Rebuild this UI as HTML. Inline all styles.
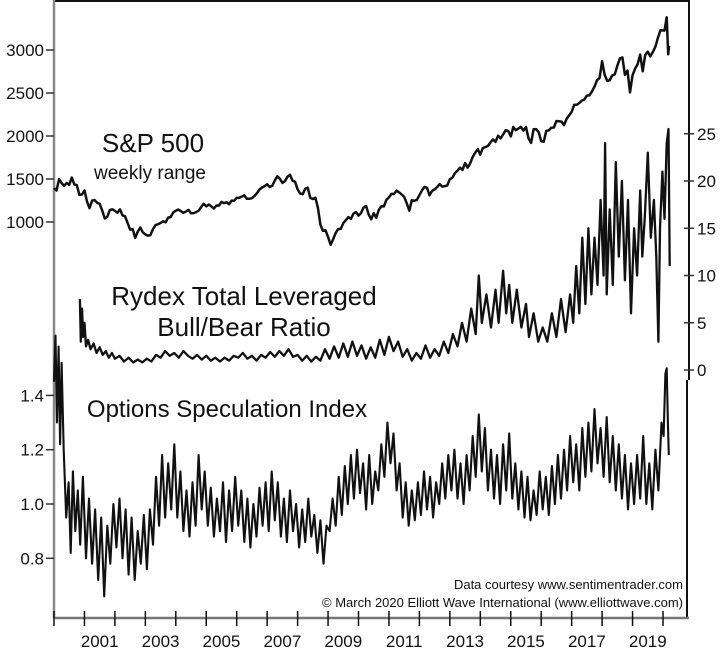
<!DOCTYPE html>
<html><head><meta charset="utf-8"><style>
html,body{margin:0;padding:0;background:#fff;}
svg{display:block;font-family:"Liberation Sans",Arial,sans-serif;}
</style></head><body>
<svg id="chart" width="720" height="650" viewBox="0 0 720 650">
<rect x="0" y="0" width="720" height="650" fill="#fff"/>
<g id="frame">
<line x1="54" y1="1" x2="689" y2="1" stroke="#111" stroke-width="2"/>
<line x1="54" y1="0" x2="54" y2="618" stroke="#888" stroke-width="2.5"/>
<line x1="689" y1="0" x2="689" y2="380" stroke="#111" stroke-width="2"/>
<line x1="687" y1="380" x2="687" y2="618" stroke="#111" stroke-width="2"/>
<line x1="54" y1="618" x2="689" y2="618" stroke="#777" stroke-width="2.5"/>
</g>
<g id="ticks"></g>
<g id="series"></g>
<text x="153" y="152" font-size="26" text-anchor="middle" fill="#111">S&amp;P 500</text>
<text x="150" y="179" font-size="19" text-anchor="middle" fill="#111">weekly range</text>
<text x="244" y="305" font-size="26" text-anchor="middle" fill="#111">Rydex Total Leveraged</text>
<text x="244" y="336" font-size="26" text-anchor="middle" fill="#111">Bull/Bear Ratio</text>
<text x="227" y="417" font-size="24" text-anchor="middle" fill="#111">Options Speculation Index</text>
<text x="683" y="589" font-size="13" text-anchor="end" fill="#111">Data courtesy www.sentimentrader.com</text>
<text x="683" y="607" font-size="13" text-anchor="end" fill="#111">© March 2020 Elliott Wave International (www.elliottwave.com)</text>
</svg>
<script>
const spYears=[2000,2001,2002,2003,2004,2005,2006,2007,2008,2009,2010,2011,2012,2013,2014,2015,2016,2017,2018,2019];
const spMonthly=[
[1394,1366,1499,1452,1421,1455,1431,1518,1437,1429,1315,1320],
[1366,1240,1160,1249,1256,1224,1211,1134,1041,1060,1139,1148],
[1130,1107,1147,1077,1067,989,912,916,815,886,936,880],
[856,841,848,917,964,975,990,1008,996,1051,1058,1112],
[1131,1145,1126,1107,1121,1141,1102,1104,1115,1130,1174,1212],
[1181,1204,1181,1157,1192,1191,1234,1220,1229,1207,1249,1248],
[1280,1281,1295,1311,1270,1270,1277,1304,1336,1378,1401,1418],
[1438,1407,1421,1482,1531,1503,1455,1474,1527,1549,1481,1468],
[1379,1331,1323,1386,1400,1280,1267,1283,1166,969,896,903],
[826,735,798,873,919,919,987,1021,1057,1036,1096,1115],
[1074,1104,1169,1187,1089,1031,1102,1049,1141,1183,1181,1258],
[1286,1327,1326,1364,1345,1321,1292,1219,1131,1253,1247,1258],
[1312,1366,1408,1398,1310,1362,1379,1407,1441,1412,1416,1426],
[1498,1515,1569,1598,1631,1606,1686,1633,1682,1757,1806,1848],
[1783,1859,1872,1884,1924,1960,1931,2003,1972,2018,2068,2059],
[1995,2105,2068,2086,2107,2063,2104,1972,1920,2079,2080,2044],
[1940,1932,2060,2065,2097,2099,2174,2171,2168,2126,2199,2239],
[2279,2364,2363,2384,2412,2423,2470,2472,2519,2575,2648,2674],
[2870,2714,2641,2648,2705,2718,2816,2902,2914,2712,2760,2507],
[2704,2784,2834,2946,2752,2942,2980,2926,2977,3038,3141,3231]];
const spTailDates=[2020.05,2020.12,2020.17,2020.2];
const spTailValues=[3226,3380,2950,3050];

const rydexDates=[2000.85,2000.88,2000.92,2000.96,2001.00,2001.05,2001.12,2001.20,2001.30,2001.40,2001.50,2001.60,2001.70,2001.80,2001.90,2002.00,2002.15,2002.30,2002.45,2002.60,2002.75,2002.90,2003.05,2003.20,2003.35,2003.50,2003.65,2003.80,2003.95,2004.10,2004.25,2004.40,2004.55,2004.70,2004.85,2005.00,2005.15,2005.30,2005.45,2005.60,2005.75,2005.90,2006.05,2006.20,2006.35,2006.50,2006.65,2006.80,2006.95,2007.10,2007.25,2007.40,2007.55,2007.70,2007.85,2008.00,2008.15,2008.30,2008.45,2008.60,2008.75,2008.90,2009.05,2009.20,2009.35,2009.50,2009.65,2009.80,2009.95,2010.10,2010.25,2010.40,2010.55,2010.70,2010.85,2011.00,2011.15,2011.30,2011.45,2011.60,2011.75,2011.90,2012.05,2012.20,2012.35,2012.50,2012.65,2012.80,2012.95,2013.10,2013.25,2013.40,2013.55,2013.70,2013.85,2013.95,2014.05,2014.20,2014.35,2014.50,2014.60,2014.75,2014.85,2014.95,2015.05,2015.20,2015.35,2015.50,2015.60,2015.75,2015.90,2016.05,2016.20,2016.35,2016.50,2016.65,2016.80,2016.95,2017.05,2017.15,2017.25,2017.35,2017.45,2017.55,2017.65,2017.75,2017.85,2017.95,2018.05,2018.10,2018.15,2018.25,2018.35,2018.45,2018.55,2018.65,2018.75,2018.85,2018.95,2019.05,2019.15,2019.25,2019.32,2019.40,2019.50,2019.60,2019.70,2019.78,2019.85,2019.90,2019.98,2020.05,2020.12,2020.18,2020.22];
const rydexValues=[7.5,3.0,6.5,3.5,5.0,2.5,3.2,2.2,2.8,1.8,2.4,1.6,2.0,1.3,1.8,1.2,1.5,0.9,1.3,0.8,1.1,0.8,1.2,0.9,1.6,1.3,2.0,1.5,1.8,1.3,2.0,1.5,1.2,1.6,1.1,1.5,1.0,1.3,0.9,1.3,1.0,1.5,1.3,1.8,1.2,1.5,1.0,1.6,1.3,1.9,1.4,2.0,1.5,2.2,1.4,1.6,1.0,1.5,0.9,1.4,1.0,2.2,1.2,2.5,1.3,2.8,1.4,3.0,1.5,2.6,1.2,2.4,1.3,3.2,1.6,3.5,2.0,3.0,1.4,2.2,1.0,1.8,1.2,2.6,1.3,2.2,1.5,3.0,1.8,3.8,2.5,5.0,3.0,6.5,3.8,10.0,5.0,8.0,4.5,8.5,5.0,10.5,6.0,9.0,5.0,8.5,4.5,7.0,3.5,6.0,3.0,4.5,3.0,6.0,3.5,7.5,4.0,8.0,5.0,11.0,6.0,14.0,7.0,15.0,8.0,14.0,9.0,18.0,10.0,24.0,8.0,17.0,9.0,22.0,12.0,20.0,9.5,18.0,6.0,15.0,10.0,19.0,12.0,16.0,23.0,14.0,18.0,12.0,3.0,15.0,21.0,16.0,24.0,25.5,11.0];

const optDates=[2000.00,2000.05,2000.10,2000.15,2000.20,2000.25,2000.32,2000.40,2000.48,2000.55,2000.62,2000.70,2000.78,2000.86,2000.95,2001.05,2001.15,2001.25,2001.35,2001.45,2001.55,2001.65,2001.75,2001.85,2001.95,2002.05,2002.15,2002.25,2002.35,2002.45,2002.55,2002.65,2002.75,2002.85,2002.95,2003.05,2003.15,2003.25,2003.35,2003.45,2003.55,2003.65,2003.75,2003.85,2003.95,2004.05,2004.15,2004.25,2004.35,2004.45,2004.55,2004.65,2004.75,2004.85,2004.95,2005.05,2005.15,2005.25,2005.35,2005.45,2005.55,2005.65,2005.75,2005.85,2005.95,2006.05,2006.15,2006.25,2006.35,2006.45,2006.55,2006.65,2006.75,2006.85,2006.95,2007.05,2007.15,2007.25,2007.35,2007.45,2007.55,2007.65,2007.75,2007.85,2007.95,2008.05,2008.15,2008.25,2008.35,2008.45,2008.55,2008.65,2008.75,2008.85,2008.95,2009.05,2009.15,2009.25,2009.35,2009.45,2009.55,2009.65,2009.75,2009.85,2009.95,2010.05,2010.15,2010.25,2010.35,2010.45,2010.55,2010.65,2010.75,2010.85,2010.95,2011.05,2011.15,2011.25,2011.35,2011.45,2011.55,2011.65,2011.75,2011.85,2011.95,2012.05,2012.15,2012.25,2012.35,2012.45,2012.55,2012.65,2012.75,2012.85,2012.95,2013.05,2013.15,2013.25,2013.35,2013.45,2013.55,2013.65,2013.75,2013.85,2013.95,2014.05,2014.15,2014.25,2014.35,2014.45,2014.55,2014.65,2014.75,2014.85,2014.95,2015.05,2015.15,2015.25,2015.35,2015.45,2015.55,2015.65,2015.75,2015.85,2015.95,2016.05,2016.15,2016.25,2016.35,2016.45,2016.55,2016.65,2016.75,2016.85,2016.95,2017.05,2017.15,2017.25,2017.35,2017.45,2017.55,2017.65,2017.75,2017.85,2017.95,2018.05,2018.15,2018.25,2018.35,2018.45,2018.55,2018.65,2018.75,2018.85,2018.95,2019.05,2019.15,2019.25,2019.35,2019.45,2019.55,2019.65,2019.75,2019.85,2019.95,2020.02,2020.08,2020.12,2020.16,2020.19];
const optValues=[1.45,1.62,1.30,1.58,1.22,1.52,1.20,0.95,1.08,0.82,1.12,0.90,1.05,0.85,1.10,0.80,1.02,0.78,0.98,0.72,0.95,0.66,0.92,0.78,1.00,0.84,1.02,0.80,0.98,0.74,0.95,0.72,0.90,0.78,0.96,0.76,0.98,0.85,1.10,0.92,1.18,0.95,1.15,0.98,1.22,0.95,1.12,0.90,1.05,0.88,1.08,0.92,1.18,0.98,1.12,0.92,1.06,0.88,1.02,0.90,1.08,0.86,1.05,0.90,1.10,0.92,1.05,0.86,1.02,0.84,1.00,0.88,1.06,0.92,1.08,0.90,1.12,0.94,1.08,0.88,1.02,0.86,1.05,0.90,1.00,0.84,0.98,0.86,1.02,0.88,0.96,0.82,0.94,0.78,0.92,0.90,1.02,0.92,1.10,0.96,1.14,1.00,1.18,1.02,1.20,1.04,1.15,0.98,1.18,1.00,1.12,1.05,1.22,1.10,1.30,1.15,1.26,1.05,1.15,0.95,1.08,0.92,1.05,0.94,1.08,0.96,1.12,0.98,1.10,0.95,1.08,1.00,1.15,1.02,1.18,1.05,1.20,1.02,1.15,1.00,1.18,1.05,1.25,1.10,1.33,1.12,1.28,1.05,1.20,1.02,1.18,1.00,1.22,1.05,1.26,1.02,1.15,0.98,1.12,0.95,1.10,0.94,1.05,0.96,1.12,0.98,1.10,0.96,1.14,1.00,1.18,1.02,1.20,1.05,1.25,1.08,1.22,1.05,1.28,1.10,1.30,1.12,1.35,1.15,1.28,1.10,1.32,1.08,1.25,1.05,1.22,1.02,1.18,0.98,1.15,1.00,1.18,1.02,1.25,1.00,1.15,0.98,1.20,1.05,1.30,1.25,1.48,1.50,1.30,1.18];

const spTicks=[1000,1500,2000,2500,3000];
const rydexTicks=[0,5,10,15,20,25];
const optTicks=[0.8,1.0,1.2,1.4];
const tickYears=[2000,2001,2002,2003,2004,2005,2006,2007,2008,2009,2010,2011,2012,2013,2014,2015,2016,2017,2018,2019,2020];
const labelYears=[2001,2003,2005,2007,2009,2011,2013,2015,2017,2019];

const NS='http://www.w3.org/2000/svg';
function xScale(t){return 54+(t-2000)*30.45;}
function ySp(v){return 222-(v-1000)*43/500;}
function yRy(v){return 370-v*9.45;}
function yOpt(v){return 504-(v-1.0)*271.5;}
function mk(tag,attrs,parent){const e=document.createElementNS(NS,tag);for(const k in attrs)e.setAttribute(k,attrs[k]);parent.appendChild(e);return e;}
const ticks=document.getElementById('ticks');
const series=document.getElementById('series');

spTicks.forEach(v=>{const y=ySp(v);
 const l=mk('line',{x1:46,x2:54,y1:y,y2:y,stroke:'#333','stroke-width':1.5},ticks);
 
 
 const t=mk('text',{x:44,y:y+6,'font-size':17,'text-anchor':'end',fill:'#111'},ticks);t.textContent=v;
 
 });
rydexTicks.forEach(v=>{const y=yRy(v);
 const l=mk('line',{x1:684,x2:694,y1:y,y2:y,stroke:'#333','stroke-width':1.5},ticks);
 
 
 const t=mk('text',{x:697,y:y+6,'font-size':17,'text-anchor':'start',fill:'#111'},ticks);t.textContent=v;
 
 });
optTicks.forEach(v=>{const y=yOpt(v);
 const l=mk('line',{x1:46,x2:54,y1:y,y2:y,stroke:'#333','stroke-width':1.5},ticks);
 
 
 const t=mk('text',{x:44,y:y+6,'font-size':17,'text-anchor':'end',fill:'#111'},ticks);t.textContent=v.toFixed(1);
 
 });
tickYears.forEach(yr=>{const x=xScale(yr);
 const l=mk('line',{x1:x,x2:x,y1:611,y2:626,stroke:'#111','stroke-width':1.5},ticks);
 
 });
labelYears.forEach(yr=>{const x=xScale(yr+0.5);
 const t=mk('text',{x:x,y:647,'font-size':17,'text-anchor':'middle',fill:'#111'},ticks);t.textContent=yr;
 
 });

let spPts=[];
spYears.forEach((yr,i)=>{spMonthly[i].forEach((v,m)=>{spPts.push([xScale(yr+m/12),ySp(v)]);});});
spTailDates.forEach((d,i)=>spPts.push([xScale(d),ySp(spTailValues[i])]));
const sp=mk('polyline',{points:spPts.map(p=>p[0].toFixed(1)+','+p[1].toFixed(1)).join(' '),fill:'none',stroke:'#111','stroke-width':2.5,'stroke-linejoin':'round'},series);



const ry=mk('polyline',{points:rydexDates.map((d,i)=>xScale(d).toFixed(1)+','+yRy(rydexValues[i]).toFixed(1)).join(' '),fill:'none',stroke:'#111','stroke-width':2.3,'stroke-linejoin':'round'},series);



const op=mk('polyline',{points:optDates.map((d,i)=>xScale(d).toFixed(1)+','+yOpt(optValues[i]).toFixed(1)).join(' '),fill:'none',stroke:'#111','stroke-width':2.1,'stroke-linejoin':'round'},series);


</script>
</body></html>
